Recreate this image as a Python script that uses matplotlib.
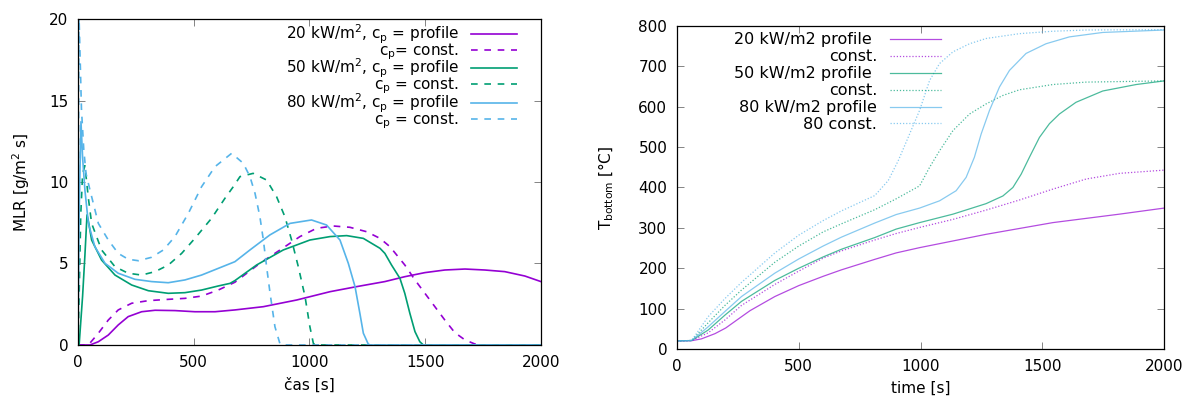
import matplotlib
matplotlib.use("Agg")
import matplotlib.pyplot as plt

plt.rcParams['font.family'] = ['DejaVu Sans']
plt.rcParams['mathtext.default'] = 'regular'
plt.rcParams['font.size'] = 11

purple = '#9400D3'
green = '#009E73'
cyan = '#56B4E9'

# MLR [g/m2 s] vs time, cp = profile (solid) and cp = const. (dashed)
t20p = [0, 52, 88, 131, 174, 217, 275, 333, 419, 505, 592, 678, 801, 945, 1089, 1204, 1326, 1412, 1499, 1585, 1672, 1758, 1844, 1931, 2000]
m20p = [0, 0, 0.2, 0.61, 1.23, 1.74, 2.04, 2.13, 2.11, 2.04, 2.04, 2.15, 2.35, 2.76, 3.27, 3.58, 3.89, 4.19, 4.44, 4.6, 4.66, 4.6, 4.5, 4.23, 3.89]
t20c = [0, 45, 88, 131, 174, 232, 304, 390, 462, 534, 606, 678, 786, 873, 959, 1031, 1103, 1175, 1247, 1305, 1348, 1412, 1456, 1499, 1542, 1585, 1628, 1672, 1715, 1740, 2000]
m20c = [0, 0, 0.72, 1.53, 2.15, 2.56, 2.72, 2.8, 2.86, 3.0, 3.37, 3.85, 5.01, 5.83, 6.65, 7.16, 7.3, 7.22, 6.95, 6.54, 6.03, 4.91, 3.99, 3.17, 2.35, 1.53, 0.76, 0.31, 0.06, 0, 0]

t50p = [0, 5, 20, 30, 39, 45, 59, 102, 160, 232, 304, 390, 462, 534, 606, 657, 678, 772, 887, 1002, 1089, 1161, 1233, 1305, 1326, 1355, 1391, 1412, 1434, 1456, 1477, 1492, 2000]
m50p = [0, 0, 3.0, 5.5, 7.98, 7.6, 6.44, 5.21, 4.29, 3.68, 3.33, 3.17, 3.21, 3.37, 3.62, 3.78, 3.95, 4.91, 5.83, 6.44, 6.65, 6.71, 6.54, 5.93, 5.62, 4.9, 4.09, 3.17, 1.94, 0.82, 0.2, 0, 0]
t50c = [0, 5, 12, 20, 30, 45, 59, 102, 160, 217, 275, 333, 390, 448, 505, 577, 635, 671, 700, 757, 815, 858, 894, 923, 952, 981, 1002, 1017, 1025, 2000]
m50c = [0, 3, 8, 10.5, 11.0, 9.0, 7.46, 5.83, 4.8, 4.4, 4.29, 4.5, 4.9, 5.62, 6.54, 7.77, 9.0, 9.71, 10.33, 10.53, 10.12, 9.1, 7.87, 6.44, 4.8, 2.97, 1.12, 0.1, 0, 0]

t80p = [0, 5, 13, 20, 30, 45, 73, 117, 174, 246, 318, 390, 462, 534, 606, 678, 743, 829, 916, 1009, 1074, 1132, 1168, 1197, 1218, 1233, 1254, 1262, 2000]
m80p = [0, 8, 13.7, 11.5, 9.5, 7.46, 6.03, 5.01, 4.4, 4.03, 3.89, 3.82, 3.99, 4.29, 4.7, 5.11, 5.83, 6.75, 7.46, 7.67, 7.36, 6.44, 5.01, 3.58, 1.94, 0.72, 0.06, 0, 0]
t80c = [0, 4, 15, 25, 35, 52, 88, 131, 174, 217, 261, 318, 369, 419, 477, 534, 592, 664, 714, 743, 765, 786, 801, 815, 830, 851, 873, 880, 2000]
m80c = [0, 20.5, 14.5, 12, 10.5, 9.5, 7.46, 6.44, 5.62, 5.26, 5.17, 5.38, 5.83, 6.65, 8.08, 9.71, 10.94, 11.76, 11.15, 10.33, 9.3, 7.87, 6.44, 4.8, 3.17, 1.12, 0.06, 0, 0]

# bottom temperature [C] vs time
tT20p = [0, 60, 100, 156, 200, 265, 300, 402, 500, 600, 675, 812, 900, 996, 1269, 1543, 1817, 2000]
T20p = [20, 20.5, 25, 38, 52, 80, 95, 130, 157, 180, 196, 222, 238, 251, 284, 313, 334, 349]
tT20c = [0, 60, 128, 197, 265, 402, 500, 600, 675, 812, 900, 996, 1133, 1269, 1406, 1543, 1680, 1817, 2000]
T20c = [20, 21, 40, 72, 108, 160, 193, 225, 243, 270, 286, 301, 321, 344, 369, 396, 421, 435, 443]
tT50p = [0, 60, 128, 197, 265, 402, 500, 600, 675, 812, 900, 996, 1133, 1269, 1338, 1379, 1413, 1447, 1488, 1529, 1570, 1638, 1748, 1885, 2000]
T50p = [20, 21, 47, 84, 118, 170, 200, 228, 247, 276, 297, 313, 334, 360, 379, 400, 433, 475, 524, 558, 582, 611, 639, 655, 664]
tT50c = [0, 60, 128, 197, 265, 402, 500, 600, 675, 812, 900, 996, 1037, 1078, 1133, 1201, 1269, 1338, 1406, 1543, 1680, 2000]
T50c = [20, 21, 65, 108, 146, 215, 255, 290, 310, 345, 372, 404, 450, 491, 541, 582, 607, 628, 642, 655, 661, 664]
tT80p = [0, 60, 128, 197, 265, 402, 500, 600, 675, 812, 900, 996, 1078, 1146, 1187, 1221, 1249, 1283, 1324, 1365, 1433, 1515, 1611, 1748, 2000]
T80p = [20, 21, 55, 93, 130, 188, 223, 255, 277, 312, 333, 349, 367, 392, 425, 475, 533, 591, 649, 690, 732, 756, 773, 784, 790]
tT80c = [0, 60, 128, 197, 265, 402, 500, 600, 675, 812, 867, 908, 949, 996, 1037, 1078, 1133, 1201, 1269, 1406, 1543, 1680, 2000]
T80c = [20, 21, 80, 125, 165, 238, 282, 318, 342, 380, 417, 466, 524, 591, 665, 707, 736, 756, 769, 781, 787, 790, 791]

fig = plt.figure(figsize=(11.94, 4.01), dpi=100)
ax1 = fig.add_axes([0.0653, 0.1397, 0.3877, 0.8129])
ax2 = fig.add_axes([0.567, 0.1297, 0.408, 0.8055])

dash = (0, (4, 4))
ax1.plot(t20p, m20p, color=purple, lw=1.2, label='20 kW/m$^2$, c$_p$ = profile')
ax1.plot(t20c, m20c, color=purple, lw=1.2, ls=dash, label='c$_p$= const.')
ax1.plot(t50p, m50p, color=green, lw=1.2, label='50 kW/m$^2$, c$_p$ = profile')
ax1.plot(t50c, m50c, color=green, lw=1.2, ls=dash, label='c$_p$ = const.')
ax1.plot(t80p, m80p, color=cyan, lw=1.2, label='80 kW/m$^2$, c$_p$ = profile')
ax1.plot(t80c, m80c, color=cyan, lw=1.2, ls=dash, label='c$_p$ = const.')
ax1.set_xlim(0, 2000)
ax1.set_ylim(0, 20)
ax1.set_xticks([0, 500, 1000, 1500, 2000])
ax1.set_yticks([0, 5, 10, 15, 20])
ax1.set_xlabel('čas [s]', labelpad=6)
ax1.set_ylabel('MLR [g/m$^2$ s]', labelpad=12)
ax1.legend(loc='upper right', bbox_to_anchor=(0.948, 0.99), frameon=False,
           markerfirst=False, borderpad=0, borderaxespad=0, handlelength=3.0,
           handletextpad=0.8, labelspacing=-0.3, fontsize=11)

dot = (0, (1, 1.5))
ax2.plot(tT20p, T20p, color=purple, lw=0.9, alpha=0.7, label='20 kW/m2 profile ')
ax2.plot(tT20c, T20c, color=purple, lw=0.9, alpha=0.7, ls=dot, label='const.')
ax2.plot(tT50p, T50p, color=green, lw=0.9, alpha=0.7, label='50 kW/m2 profile ')
ax2.plot(tT50c, T50c, color=green, lw=0.9, alpha=0.7, ls=dot, label='const.')
ax2.plot(tT80p, T80p, color=cyan, lw=0.9, alpha=0.7, label='80 kW/m2 profile')
ax2.plot(tT80c, T80c, color=cyan, lw=0.9, alpha=0.7, ls=dot, label='80 const.')
ax2.set_xlim(0, 2000)
ax2.set_ylim(0, 800)
ax2.set_xticks([0, 500, 1000, 1500, 2000])
ax2.set_yticks(range(0, 801, 100))
ax2.set_xlabel('time [s]', labelpad=5)
ax2.set_ylabel('T$_{bottom}$ [°C]', labelpad=16)
ax2.legend(loc='upper right', bbox_to_anchor=(0.542, 0.98), frameon=False,
           markerfirst=False, borderpad=0, borderaxespad=0, handlelength=3.2,
           handletextpad=0.8, labelspacing=0.12, fontsize=11.5)

for ax in (ax1, ax2):
    ax.tick_params(direction='in', top=True, right=True, length=5, width=0.6,
                   color='#707070', labelsize=11, pad=7)
    for s in ax.spines.values():
        s.set_linewidth(0.9)

fig.savefig('out.png', dpi=100)
